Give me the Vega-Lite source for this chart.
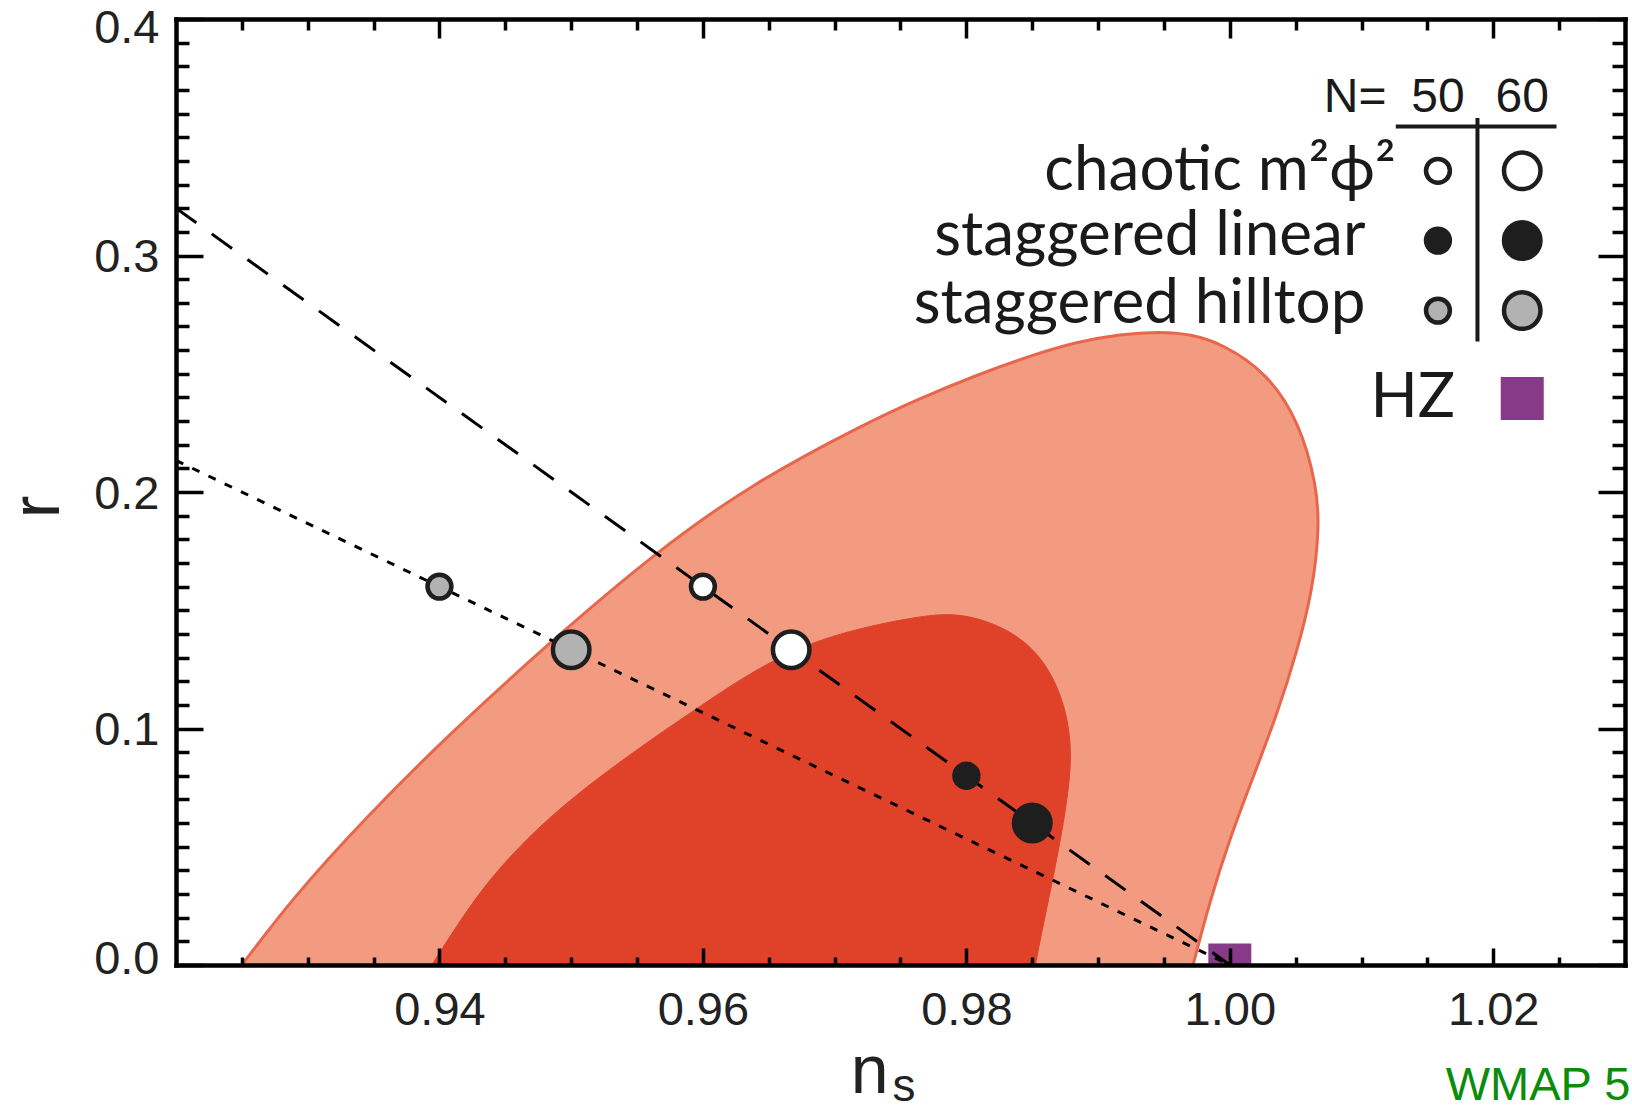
{
  "$schema": "https://vega.github.io/schema/vega-lite/v6.json",
  "width": 1449,
  "height": 946,
  "autosize": {"type": "none"},
  "padding": {"left": 176, "top": 19, "right": 7, "bottom": 146},
  "background": "white",
  "config": {"view": {"stroke": null}, "axis": {"grid": false}},
  "resolve": {"axis": {"x": "independent", "y": "independent"}},
  "datasets": {
    "outer": [
      {"i": 1, "ns": 0.9223, "r": -0.02},
      {"i": 2, "ns": 0.925, "r": 0.0},
      {"i": 3, "ns": 0.9287, "r": 0.0273},
      {"i": 4, "ns": 0.9344, "r": 0.0624},
      {"i": 5, "ns": 0.9407, "r": 0.0974},
      {"i": 6, "ns": 0.94847, "r": 0.1369},
      {"i": 7, "ns": 0.9564, "r": 0.1745},
      {"i": 8, "ns": 0.96378, "r": 0.2038},
      {"i": 9, "ns": 0.9723, "r": 0.2289},
      {"i": 10, "ns": 0.9765, "r": 0.2397},
      {"i": 11, "ns": 0.981, "r": 0.2499},
      {"i": 12, "ns": 0.9848, "r": 0.2575},
      {"i": 13, "ns": 0.9883, "r": 0.2634},
      {"i": 14, "ns": 0.9917, "r": 0.2668},
      {"i": 15, "ns": 0.9947, "r": 0.2678},
      {"i": 16, "ns": 0.997, "r": 0.2668},
      {"i": 17, "ns": 0.9995, "r": 0.2625},
      {"i": 18, "ns": 1.0028, "r": 0.2505},
      {"i": 19, "ns": 1.0053, "r": 0.2295},
      {"i": 20, "ns": 1.0066, "r": 0.2026},
      {"i": 21, "ns": 1.0068, "r": 0.1851},
      {"i": 22, "ns": 1.0063, "r": 0.1588},
      {"i": 23, "ns": 1.0051, "r": 0.1325},
      {"i": 24, "ns": 1.0036, "r": 0.1062},
      {"i": 25, "ns": 1.0018, "r": 0.0799},
      {"i": 26, "ns": 1.0, "r": 0.0536},
      {"i": 27, "ns": 0.9985, "r": 0.0273},
      {"i": 28, "ns": 0.9972, "r": 0.0},
      {"i": 29, "ns": 0.9963, "r": -0.02}
    ],
    "inner": [
      {"i": 1, "ns": 0.9372, "r": -0.02},
      {"i": 2, "ns": 0.9394, "r": 0.0},
      {"i": 3, "ns": 0.94255, "r": 0.0273},
      {"i": 4, "ns": 0.94513, "r": 0.0448},
      {"i": 5, "ns": 0.9483, "r": 0.0624},
      {"i": 6, "ns": 0.9522, "r": 0.0799},
      {"i": 7, "ns": 0.9566, "r": 0.0974},
      {"i": 8, "ns": 0.9594, "r": 0.1079},
      {"i": 9, "ns": 0.9636, "r": 0.1237},
      {"i": 10, "ns": 0.9679, "r": 0.136},
      {"i": 11, "ns": 0.9723, "r": 0.143},
      {"i": 12, "ns": 0.9767, "r": 0.1477},
      {"i": 13, "ns": 0.979, "r": 0.1486},
      {"i": 14, "ns": 0.9813, "r": 0.1462},
      {"i": 15, "ns": 0.9838, "r": 0.1398},
      {"i": 16, "ns": 0.9856, "r": 0.1307},
      {"i": 17, "ns": 0.9869, "r": 0.1184},
      {"i": 18, "ns": 0.9877, "r": 0.1044},
      {"i": 19, "ns": 0.988, "r": 0.0887},
      {"i": 20, "ns": 0.9877, "r": 0.0711},
      {"i": 21, "ns": 0.987, "r": 0.0483},
      {"i": 22, "ns": 0.9861, "r": 0.0238},
      {"i": 23, "ns": 0.9852, "r": 0.0},
      {"i": 24, "ns": 0.9847, "r": -0.02}
    ],
    "dashed": [{"ns": 0.92, "r": 0.32}, {"ns": 1.0, "r": 0.0}],
    "dotted": [{"ns": 0.92, "r": 0.21333}, {"ns": 1.0, "r": 0.0}],
    "hz": [{"ns": 1.0, "r": 0.0}, {"ns": 1.0222, "r": 0.2395}],
    "points": [
      {"model": "chaotic", "N": 50, "ns": 0.96, "r": 0.16},
      {"model": "chaotic", "N": 60, "ns": 0.9667, "r": 0.1333},
      {"model": "linear", "N": 50, "ns": 0.98, "r": 0.08},
      {"model": "linear", "N": 60, "ns": 0.985, "r": 0.06},
      {"model": "hilltop", "N": 50, "ns": 0.94, "r": 0.16},
      {"model": "hilltop", "N": 60, "ns": 0.95, "r": 0.1333},
      {"model": "chaotic", "N": 50, "ns": 1.0158, "r": 0.3358},
      {"model": "chaotic", "N": 60, "ns": 1.0222, "r": 0.3358},
      {"model": "linear", "N": 50, "ns": 1.0158, "r": 0.3063},
      {"model": "linear", "N": 60, "ns": 1.0222, "r": 0.3063},
      {"model": "hilltop", "N": 50, "ns": 1.0158, "r": 0.2767},
      {"model": "hilltop", "N": 60, "ns": 1.0222, "r": 0.2767}
    ],
    "tableRules": [
      {"ns": 1.0126, "ns2": 1.0248, "r": 0.3545, "r2": 0.3545},
      {"ns": 1.0188, "ns2": 1.0188, "r": 0.3581, "r2": 0.2636}
    ],
    "header": [
      {"label": "N=", "ns": 1.0119, "r": 0.3608, "align": "right"},
      {"label": "50", "ns": 1.0158, "r": 0.3608, "align": "center"},
      {"label": "60", "ns": 1.0222, "r": 0.3608, "align": "center"}
    ],
    "rows": [
      {"label": "chaotic m²ϕ²", "ns": 1.0126, "r": 0.3277},
      {"label": "staggered linear", "ns": 1.0103, "r": 0.3002},
      {"label": "staggered hilltop", "ns": 1.0103, "r": 0.2715},
      {"label": "HZ", "ns": 1.0171, "r": 0.2318}
    ],
    "titleN": [{"label": "n", "ns": 0.97265, "r": -0.0541}],
    "titleS": [{"label": "s", "ns": 0.97527, "r": -0.0576}],
    "titleR": [{"label": "r", "ns": 0.9096, "r": 0.1937}],
    "wmap": [{"label": "WMAP 5", "ns": 1.0304, "r": -0.0571}]
  },
  "layer": [
    {
      "data": {"name": "outer"},
      "mark": {"type": "line", "interpolate": "basis", "fill": "#f29b80", "stroke": "#e8674c", "strokeWidth": 3, "clip": true},
      "encoding": {
        "x": {"field": "ns", "type": "quantitative", "scale": {"domain": [0.92, 1.03], "nice": false, "zero": false},
          "axis": {"orient": "bottom", "values": [0.94, 0.96, 0.98, 1.0, 1.02], "format": ".2f", "title": null, "tickSize": -17, "tickWidth": 3.5, "tickColor": "#000", "domain": true, "domainColor": "#000", "domainWidth": 4.5, "domainCap": "square", "labelFont": "Liberation Sans", "labelFontSize": 47, "labelColor": "#222", "labelPadding": 39, "labelFlush": false, "labelOverlap": false, "grid": false, "zindex": 1}},
        "y": {"field": "r", "type": "quantitative", "scale": {"domain": [0, 0.4], "nice": false, "zero": false},
          "axis": {"orient": "left", "values": [0, 0.1, 0.2, 0.3, 0.4], "format": ".1f", "title": null, "tickSize": -27, "tickWidth": 3.5, "tickColor": "#000", "domain": true, "domainColor": "#000", "domainWidth": 4.5, "domainCap": "square", "labelFont": "Liberation Sans", "labelFontSize": 47, "labelColor": "#222", "labelPadding": 44, "labelOffset": 2, "labelFlush": true, "labelFlushOffset": 16, "labelOverlap": false, "grid": false, "zindex": 1}},
        "order": {"field": "i", "type": "quantitative"}
      }
    },
    {
      "data": {"name": "inner"},
      "mark": {"type": "line", "interpolate": "basis", "fill": "#e04129", "stroke": "#e04129", "strokeWidth": 1, "clip": true},
      "encoding": {
        "x": {"field": "ns", "type": "quantitative", "scale": {"domain": [0.92, 1.03], "nice": false, "zero": false},
          "axis": {"orient": "bottom", "values": [0.925, 0.93, 0.935, 0.945, 0.95, 0.955, 0.965, 0.97, 0.975, 0.985, 0.99, 0.995, 1.005, 1.01, 1.015, 1.025], "labels": false, "domain": false, "title": null, "tickSize": -8, "tickWidth": 3.5, "tickColor": "#000", "grid": false, "zindex": 1}},
        "y": {"field": "r", "type": "quantitative", "scale": {"domain": [0, 0.4], "nice": false, "zero": false},
          "axis": {"orient": "left", "values": [0.01, 0.02, 0.03, 0.04, 0.05, 0.06, 0.07, 0.08, 0.09, 0.11, 0.12, 0.13, 0.14, 0.15, 0.16, 0.17, 0.18, 0.19, 0.21, 0.22, 0.23, 0.24, 0.25, 0.26, 0.27, 0.28, 0.29, 0.31, 0.32, 0.33, 0.34, 0.35, 0.36, 0.37, 0.38, 0.39], "labels": false, "domain": false, "title": null, "tickSize": -13, "tickWidth": 3.5, "tickColor": "#000", "grid": false, "zindex": 1}},
        "order": {"field": "i", "type": "quantitative"}
      }
    },
    {
      "data": {"name": "hz"},
      "mark": {"type": "point", "shape": "square", "filled": true, "size": 1849, "color": "#873a87", "opacity": 1, "clip": true},
      "encoding": {
        "x": {"field": "ns", "type": "quantitative", "scale": {"domain": [0.92, 1.03], "nice": false, "zero": false}, "axis": null},
        "y": {"field": "r", "type": "quantitative", "scale": {"domain": [0, 0.4], "nice": false, "zero": false}, "axis": null}
      }
    },
    {
      "data": {"name": "dashed"},
      "mark": {"type": "line", "stroke": "#000", "strokeWidth": 3, "strokeDash": [25, 19], "clip": true},
      "encoding": {
        "x": {"field": "ns", "type": "quantitative", "scale": {"domain": [0.92, 1.03], "nice": false, "zero": false},
          "axis": {"orient": "top", "values": [0.94, 0.96, 0.98, 1.0, 1.02], "labels": false, "title": null, "tickSize": -19, "tickWidth": 3.5, "tickColor": "#000", "domain": true, "domainColor": "#000", "domainWidth": 4.5, "domainCap": "square", "grid": false, "zindex": 1}},
        "y": {"field": "r", "type": "quantitative", "scale": {"domain": [0, 0.4], "nice": false, "zero": false},
          "axis": {"orient": "right", "values": [0, 0.1, 0.2, 0.3, 0.4], "labels": false, "title": null, "tickSize": -27, "tickWidth": 3.5, "tickColor": "#000", "domain": true, "domainColor": "#000", "domainWidth": 4.5, "domainCap": "square", "grid": false, "zindex": 1}}
      }
    },
    {
      "data": {"name": "dotted"},
      "mark": {"type": "line", "stroke": "#000", "strokeWidth": 3, "strokeDash": [8, 10], "clip": true},
      "encoding": {
        "x": {"field": "ns", "type": "quantitative", "scale": {"domain": [0.92, 1.03], "nice": false, "zero": false},
          "axis": {"orient": "top", "values": [0.925, 0.93, 0.935, 0.945, 0.95, 0.955, 0.965, 0.97, 0.975, 0.985, 0.99, 0.995, 1.005, 1.01, 1.015, 1.025], "labels": false, "domain": false, "title": null, "tickSize": -11, "tickWidth": 3.5, "tickColor": "#000", "grid": false, "zindex": 1}},
        "y": {"field": "r", "type": "quantitative", "scale": {"domain": [0, 0.4], "nice": false, "zero": false},
          "axis": {"orient": "right", "values": [0.01, 0.02, 0.03, 0.04, 0.05, 0.06, 0.07, 0.08, 0.09, 0.11, 0.12, 0.13, 0.14, 0.15, 0.16, 0.17, 0.18, 0.19, 0.21, 0.22, 0.23, 0.24, 0.25, 0.26, 0.27, 0.28, 0.29, 0.31, 0.32, 0.33, 0.34, 0.35, 0.36, 0.37, 0.38, 0.39], "labels": false, "domain": false, "title": null, "tickSize": -13, "tickWidth": 3.5, "tickColor": "#000", "grid": false, "zindex": 1}}
      }
    },
    {
      "data": {"name": "points"},
      "mark": {"type": "point", "shape": "circle", "filled": true, "stroke": "#1e1e1e", "strokeWidth": 4.5, "opacity": 1},
      "encoding": {
        "x": {"field": "ns", "type": "quantitative", "scale": {"domain": [0.92, 1.03], "nice": false, "zero": false}, "axis": null},
        "y": {"field": "r", "type": "quantitative", "scale": {"domain": [0, 0.4], "nice": false, "zero": false}, "axis": null},
        "fill": {"field": "model", "type": "nominal", "scale": {"domain": ["chaotic", "linear", "hilltop"], "range": ["#ffffff", "#1e1e1e", "#b2b2b2"]}, "legend": null},
        "size": {"field": "N", "type": "ordinal", "scale": {"domain": [50, 60], "range": [570, 1330]}, "legend": null}
      }
    },
    {
      "data": {"name": "tableRules"},
      "mark": {"type": "rule", "stroke": "#1a1a1a", "strokeWidth": 4},
      "encoding": {
        "x": {"field": "ns", "type": "quantitative", "scale": {"domain": [0.92, 1.03], "nice": false, "zero": false}, "axis": null},
        "x2": {"field": "ns2"},
        "y": {"field": "r", "type": "quantitative", "scale": {"domain": [0, 0.4], "nice": false, "zero": false}, "axis": null},
        "y2": {"field": "r2"}
      }
    },
    {
      "data": {"name": "header"},
      "transform": [{"filter": "datum.align == 'right'"}],
      "mark": {"type": "text", "font": "Liberation Sans", "fontSize": 48, "color": "#1a1a1a", "align": "right", "baseline": "alphabetic"},
      "encoding": {
        "x": {"field": "ns", "type": "quantitative", "scale": {"domain": [0.92, 1.03], "nice": false, "zero": false}, "axis": null},
        "y": {"field": "r", "type": "quantitative", "scale": {"domain": [0, 0.4], "nice": false, "zero": false}, "axis": null},
        "text": {"field": "label"}
      }
    },
    {
      "data": {"name": "header"},
      "transform": [{"filter": "datum.align == 'center'"}],
      "mark": {"type": "text", "font": "Liberation Sans", "fontSize": 48, "color": "#1a1a1a", "align": "center", "baseline": "alphabetic"},
      "encoding": {
        "x": {"field": "ns", "type": "quantitative", "scale": {"domain": [0.92, 1.03], "nice": false, "zero": false}, "axis": null},
        "y": {"field": "r", "type": "quantitative", "scale": {"domain": [0, 0.4], "nice": false, "zero": false}, "axis": null},
        "text": {"field": "label"}
      }
    },
    {
      "data": {"name": "rows"},
      "mark": {"type": "text", "font": "Lato, DejaVu Sans", "fontSize": 62, "color": "#1a1a1a", "align": "right", "baseline": "alphabetic"},
      "encoding": {
        "x": {"field": "ns", "type": "quantitative", "scale": {"domain": [0.92, 1.03], "nice": false, "zero": false}, "axis": null},
        "y": {"field": "r", "type": "quantitative", "scale": {"domain": [0, 0.4], "nice": false, "zero": false}, "axis": null},
        "text": {"field": "label"}
      }
    },
    {
      "data": {"name": "titleN"},
      "mark": {"type": "text", "font": "Liberation Sans", "fontSize": 68, "color": "#222", "align": "center", "baseline": "alphabetic"},
      "encoding": {
        "x": {"field": "ns", "type": "quantitative", "scale": {"domain": [0.92, 1.03], "nice": false, "zero": false}, "axis": null},
        "y": {"field": "r", "type": "quantitative", "scale": {"domain": [0, 0.4], "nice": false, "zero": false}, "axis": null},
        "text": {"field": "label"}
      }
    },
    {
      "data": {"name": "titleS"},
      "mark": {"type": "text", "font": "Liberation Sans", "fontSize": 46, "color": "#222", "align": "center", "baseline": "alphabetic"},
      "encoding": {
        "x": {"field": "ns", "type": "quantitative", "scale": {"domain": [0.92, 1.03], "nice": false, "zero": false}, "axis": null},
        "y": {"field": "r", "type": "quantitative", "scale": {"domain": [0, 0.4], "nice": false, "zero": false}, "axis": null},
        "text": {"field": "label"}
      }
    },
    {
      "data": {"name": "titleR"},
      "mark": {"type": "text", "font": "Liberation Sans", "fontSize": 68, "color": "#222", "align": "center", "baseline": "middle", "angle": 270},
      "encoding": {
        "x": {"field": "ns", "type": "quantitative", "scale": {"domain": [0.92, 1.03], "nice": false, "zero": false}, "axis": null},
        "y": {"field": "r", "type": "quantitative", "scale": {"domain": [0, 0.4], "nice": false, "zero": false}, "axis": null},
        "text": {"field": "label"}
      }
    },
    {
      "data": {"name": "wmap"},
      "mark": {"type": "text", "font": "Liberation Sans", "fontSize": 47, "color": "#0b8c0b", "align": "right", "baseline": "alphabetic"},
      "encoding": {
        "x": {"field": "ns", "type": "quantitative", "scale": {"domain": [0.92, 1.03], "nice": false, "zero": false}, "axis": null},
        "y": {"field": "r", "type": "quantitative", "scale": {"domain": [0, 0.4], "nice": false, "zero": false}, "axis": null},
        "text": {"field": "label"}
      }
    }
  ]
}
